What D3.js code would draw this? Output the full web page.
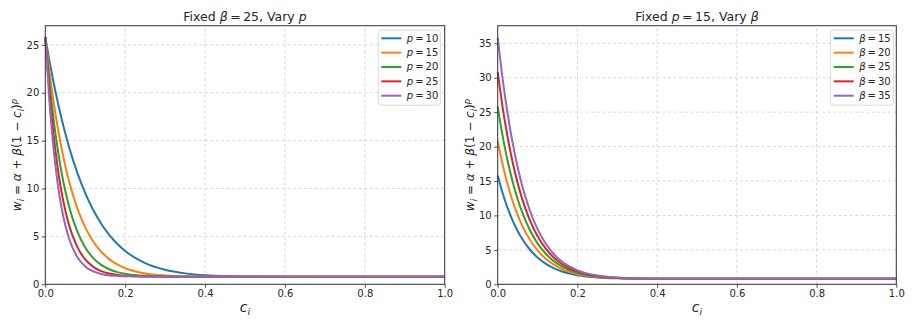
<!DOCTYPE html>
<html>
<head>
<meta charset="utf-8">
<title>weights</title>
<script src="https://cdn.jsdelivr.net/npm/d3@7"></script>
<style>
  body { margin: 0; background: #fff; }
  svg text { font-family: "DejaVu Sans", sans-serif; fill: #262626; }
</style>
</head>
<body>
<script>
// sampled c_i positions
var cVals = [0, 0.01, 0.02, 0.03, 0.04, 0.05, 0.06, 0.08, 0.10, 0.12, 0.14, 0.16, 0.18, 0.20, 0.25, 0.30, 0.35, 0.40, 0.50, 0.60, 0.80, 1.0];

// left panel: beta = 25, p varies
var leftNames = ["p = 10", "p = 15", "p = 20", "p = 25", "p = 30"];
var leftP10 = [25.8, 23.41, 21.23, 19.23, 17.42, 15.77, 14.26, 11.66, 9.52, 7.76, 6.33, 5.17, 4.24, 3.48, 2.21, 1.51, 1.14, 0.95, 0.82, 0.80, 0.80, 0.80];
var leftP15 = [25.8, 22.30, 19.27, 16.63, 14.35, 12.38, 10.68, 7.96, 5.95, 4.47, 3.40, 2.63, 2.07, 1.68, 1.13, 0.92, 0.84, 0.81, 0.80, 0.80, 0.80, 0.80];
var leftP20 = [25.8, 21.25, 17.49, 14.40, 11.85, 9.76, 8.05, 5.52, 3.84, 2.74, 2.03, 1.57, 1.27, 1.09, 0.88, 0.82, 0.80, 0.80, 0.80, 0.80, 0.80, 0.80];
var leftP25 = [25.8, 20.25, 15.89, 12.48, 9.81, 7.73, 6.12, 3.91, 2.60, 1.82, 1.38, 1.12, 0.98, 0.89, 0.82, 0.80, 0.80, 0.80, 0.80, 0.80, 0.80, 0.80];
var leftP30 = [25.8, 19.29, 14.44, 10.83, 8.15, 6.17, 4.71, 2.85, 1.86, 1.34, 1.07, 0.93, 0.87, 0.83, 0.80, 0.80, 0.80, 0.80, 0.80, 0.80, 0.80, 0.80];

// right panel: p = 15, beta varies
var rightNames = ["β = 15", "β = 20", "β = 25", "β = 30", "β = 35"];
var rightB15 = [15.8, 13.70, 11.88, 10.30, 8.93, 7.75, 6.73, 5.09, 3.89, 3.01, 2.36, 1.90, 1.57, 1.33, 1.00, 0.87, 0.82, 0.81, 0.80, 0.80, 0.80, 0.80];
var rightB20 = [20.8, 18.00, 15.57, 13.47, 11.64, 10.07, 8.71, 6.53, 4.92, 3.74, 2.88, 2.26, 1.82, 1.50, 1.07, 0.90, 0.83, 0.81, 0.80, 0.80, 0.80, 0.80];
var rightB25 = [25.8, 22.30, 19.27, 16.63, 14.35, 12.38, 10.68, 7.96, 5.95, 4.47, 3.40, 2.63, 2.07, 1.68, 1.13, 0.92, 0.84, 0.81, 0.80, 0.80, 0.80, 0.80];
var rightB30 = [30.8, 26.60, 22.96, 19.80, 17.06, 14.70, 12.66, 9.39, 6.98, 5.21, 3.92, 2.99, 2.33, 1.86, 1.20, 0.94, 0.85, 0.81, 0.80, 0.80, 0.80, 0.80];
var rightB35 = [35.8, 30.90, 26.65, 22.97, 19.77, 17.02, 14.64, 10.82, 8.01, 5.95, 4.44, 3.36, 2.59, 2.03, 1.27, 0.97, 0.85, 0.82, 0.80, 0.80, 0.80, 0.80];

var xTicks = [0, 0.2, 0.4, 0.6, 0.8, 1.0];
var leftYTicks = [0, 5, 10, 15, 20, 25];
var rightYTicks = [0, 5, 10, 15, 20, 25, 30, 35];
var colors = ["#1f77b4", "#ff7f0e", "#2ca02c", "#d62728", "#9467bd"];

var W = 914, H = 326;
var svg = d3.select("body").append("svg").attr("width", W).attr("height", H);

function panel(opts) {
  var x = d3.scaleLinear().domain([0, 1]).range([opts.left, opts.right]);
  var y = d3.scaleLinear().domain([0, opts.ymax]).range([284.3, 25.7]);
  var g = svg.append("g");

  // grid
  g.selectAll(".gx").data(xTicks).enter().append("line")
    .attr("x1", function(d) { return x(d); }).attr("x2", function(d) { return x(d); })
    .attr("y1", y.range()[0]).attr("y2", y.range()[1])
    .attr("stroke", "#cfcfcf").attr("stroke-width", 0.8).attr("stroke-dasharray", "3,2.5");
  g.selectAll(".gy").data(opts.yticks).enter().append("line")
    .attr("y1", function(d) { return y(d); }).attr("y2", function(d) { return y(d); })
    .attr("x1", opts.left).attr("x2", opts.right)
    .attr("stroke", "#cfcfcf").attr("stroke-width", 0.8).attr("stroke-dasharray", "3,2.5");

  // lines
  var line = d3.line()
    .x(function(d, i) { return x(cVals[i]); })
    .y(function(d) { return y(d); })
    .curve(d3.curveMonotoneX);
  opts.series.forEach(function(s, i) {
    g.append("path").attr("d", line(s))
      .attr("fill", "none").attr("stroke", colors[i]).attr("stroke-width", 2);
  });

  // axes
  var xAxis = d3.axisBottom(x).tickValues(xTicks).tickFormat(d3.format(".1f")).tickSize(3.5).tickPadding(2.5);
  var yAxis = d3.axisLeft(y).tickValues(opts.yticks).tickFormat(d3.format("d")).tickSize(3.5).tickPadding(2.5);
  var ax = g.append("g").attr("transform", "translate(0," + y(0) + ")").call(xAxis);
  var ay = g.append("g").attr("transform", "translate(" + opts.left + ",0)").call(yAxis);
  [ax, ay].forEach(function(a) {
    a.select(".domain").remove();
    a.selectAll("line").attr("stroke", "#262626").attr("stroke-width", 0.8);
    a.selectAll("text").attr("font-size", 10).attr("fill", "#262626")
      .style("font-family", "DejaVu Sans, sans-serif");
  });

  // frame
  g.append("rect").attr("x", opts.left).attr("y", 25.7)
    .attr("width", opts.right - opts.left).attr("height", 284.3 - 25.7)
    .attr("fill", "none").attr("stroke", "#333").attr("stroke-width", 1);

  // title
  var t = g.append("text").attr("x", (opts.left + opts.right) / 2).attr("y", 20.5)
    .attr("text-anchor", "middle").attr("font-size", 12.5);
  opts.title(t);

  // x label
  var xl = g.append("text").attr("x", (opts.left + opts.right) / 2).attr("y", 312)
    .attr("text-anchor", "middle").attr("font-size", 14);
  xl.append("tspan").attr("font-style", "italic").text("c");
  xl.append("tspan").attr("font-style", "italic").attr("font-size", 9.5).attr("dy", 3).text("i");

  // y label
  var yl = g.append("text")
    .attr("transform", "translate(" + opts.ylabX + "," + ((25.7 + 284.3) / 2) + ") rotate(-90)")
    .attr("text-anchor", "middle").attr("font-size", 12);
  yl.append("tspan").attr("font-style", "italic").text("w");
  yl.append("tspan").attr("font-style", "italic").attr("font-size", 8.5).attr("dy", 2.5).text("i");
  yl.append("tspan").attr("dy", -2.5).text(" = ");
  yl.append("tspan").attr("font-style", "italic").text("α");
  yl.append("tspan").text(" + ");
  yl.append("tspan").attr("font-style", "italic").text("β");
  yl.append("tspan").text("(1 − ");
  yl.append("tspan").attr("font-style", "italic").text("c");
  yl.append("tspan").attr("font-style", "italic").attr("font-size", 8.5).attr("dy", 2.5).text("i");
  yl.append("tspan").attr("dy", -2.5).text(")");
  yl.append("tspan").attr("font-style", "italic").attr("font-size", 8.5).attr("dy", -4.5).text("p");

  // legend
  var lg = g.append("g");
  lg.append("rect").attr("x", opts.legX).attr("y", 30.2)
    .attr("width", opts.legW).attr("height", 75)
    .attr("rx", 2.5).attr("fill", "#fff").attr("fill-opacity", 0.8)
    .attr("stroke", "#d0d0d0").attr("stroke-width", 0.8);
  opts.names.forEach(function(n, i) {
    var yy = 38.3 + i * 14.35;
    lg.append("line").attr("x1", opts.legX + 3).attr("x2", opts.legX + 23)
      .attr("y1", yy).attr("y2", yy).attr("stroke", colors[i]).attr("stroke-width", 2);
    var parts = n.split(" = ");
    var tx = lg.append("text").attr("x", opts.legX + 28.5).attr("y", yy + 3.4).attr("font-size", 10);
    tx.append("tspan").attr("font-style", "italic").text(parts[0]);
    tx.append("tspan").text("\u2009=\u2009" + parts[1]);
  });
}

panel({
  left: 45.3, right: 444.7, ymax: 27.0, yticks: leftYTicks,
  series: [leftP10, leftP15, leftP20, leftP25, leftP30],
  names: leftNames, legX: 378.3, legW: 62, ylabX: 21,
  title: function(t) {
    t.append("tspan").text("Fixed ");
    t.append("tspan").attr("font-style", "italic").text("β");
    t.append("tspan").text("\u2009=\u200925, Vary ");
    t.append("tspan").attr("font-style", "italic").text("p");
  }
});

panel({
  left: 497.7, right: 896.3, ymax: 37.55, yticks: rightYTicks,
  series: [rightB15, rightB20, rightB25, rightB30, rightB35],
  names: rightNames, legX: 830.7, legW: 62.6, ylabX: 474,
  title: function(t) {
    t.append("tspan").text("Fixed ");
    t.append("tspan").attr("font-style", "italic").text("p");
    t.append("tspan").text("\u2009=\u200915, Vary ");
    t.append("tspan").attr("font-style", "italic").text("β");
  }
});
</script>
</body>
</html>
